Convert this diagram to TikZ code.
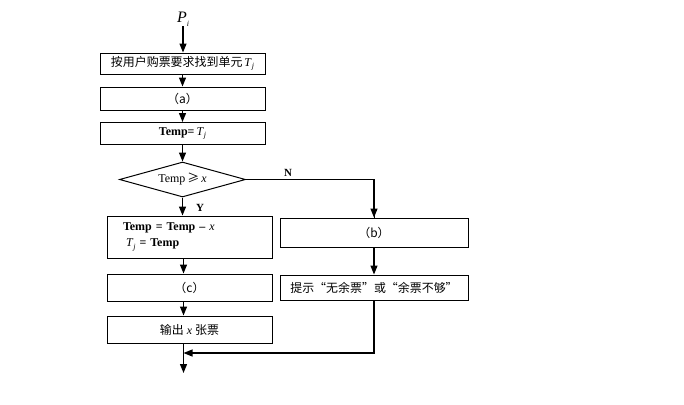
\documentclass[tikz,border=0pt]{standalone}
\usepackage{fontspec}
\setmainfont{Liberation Serif}
\newfontfamily\cjk{Noto Sans CJK SC}
\usetikzlibrary{shapes.geometric,arrows.meta}
\newcommand{\Tj}{\textit{T}\raisebox{-0.45ex}{\footnotesize\textit{j}}}
\begin{document}
\begin{tikzpicture}[x=1bp,y=-1bp,
  box/.style={draw,line width=1pt,minimum width=165bp,inner sep=0pt,font=\fontsize{12}{14}\selectfont},
  rbox/.style={box,minimum width=188bp},
  arr/.style={line width=1.2pt,-{Triangle[length=9bp,width=7bp]}},
  ln/.style={line width=1pt},
  lbl/.style={font=\fontsize{11}{13}\selectfont\bfseries,inner sep=0pt}]
\useasboundingbox (0,0) rectangle (684,404);

\node[inner sep=0pt,font=\fontsize{16}{18}\selectfont] (pi) at (183,19) {\textit{P}\raisebox{-0.5ex}{\footnotesize\textit{i}}};
\node[box,minimum height=21bp] (b1) at (182.5,63.5) {{\cjk 按用户购票要求找到单元}\,\Tj};
\node[box,minimum height=23bp] (ba) at (182.5,98.5) {\cjk （a）};
\node[box,minimum height=22bp] (b3) at (182.5,133.5) {\bfseries Temp=\,\mdseries\Tj};
\node[draw,diamond,shape aspect=3.6,line width=1pt,minimum width=126bp,minimum height=35bp,inner sep=0pt,font=\fontsize{12}{14}\selectfont] (dia) at (182.5,179.5) {Temp\,{\cjk ≥}\,\textit{x}};
\node[box,minimum height=42bp,align=left,text width=133bp,inner xsep=16bp] (b4) at (189.5,237)
  {\bfseries Temp = Temp -- \mdseries\textit{x}\\[2bp]\hspace{3bp}\Tj\ \bfseries= Temp};
\node[box,minimum height=27bp] (bc) at (189.5,287.5) {\cjk （c）};
\node[box,minimum height=27bp] (bo) at (189.5,329.5) {{\cjk 输出} \textit{x} {\cjk 张票}};
\node[rbox,minimum height=29bp] (bb) at (374,232.5) {\cjk （b）};
\node[rbox,minimum height=25bp] (bt) at (374,287.5) {\cjk 提示“无余票”或“余票不够”};

\coordinate (m) at (183.5,353);
\coordinate (end) at (183.5,373);

\draw[arr] (pi.south) -- (pi.south |- b1.north);
\draw[arr] (b1.south) -- (ba.north);
\draw[arr] (ba.south) -- (b3.north);
\draw[arr] (b3.south) -- (dia.north);
\draw[arr] (dia.south) -- (dia.south |- b4.north);
\draw[arr] (m |- b4.south) -- (m |- bc.north);
\draw[arr] (m |- bc.south) -- (m |- bo.north);
\draw[arr] (m |- bo.south) -- (end);
\draw[ln] (dia.east) -| (bb.north);
\draw[arr] (dia.east -| bb.north) -- (bb.north);
\draw[arr] (bb.south) -- (bt.north);
\draw[arr] (bt.south) |- (m);

\node[lbl] (n) at (288,173) {N};
\node[lbl] (y) at (200,208) {Y};
\end{tikzpicture}
\end{document}
